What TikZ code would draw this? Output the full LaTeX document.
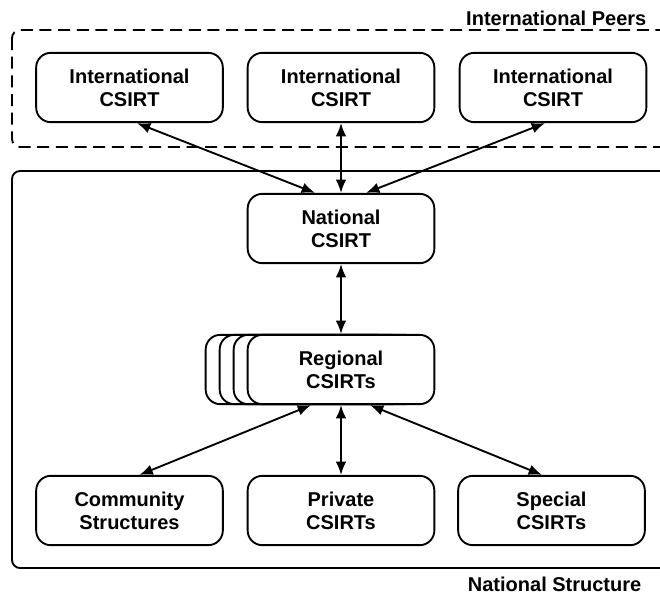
\documentclass[tikz,border=0pt]{standalone}
\usepackage{fontspec}
\setmainfont{Liberation Sans}
\usetikzlibrary{arrows.meta}

\begin{document}
\begin{tikzpicture}[x=0.75pt,y=-0.75pt,
		csirt/.style={draw, line width=1.4pt, rounded corners=11pt, fill=white, minimum width=140pt, minimum height=52pt, align=center, font=\bfseries\fontsize{15}{17.25}\selectfont},
		frame/.style={draw, line width=1.4pt, rounded corners=6pt},
		tag/.style={anchor=east, font=\bfseries\fontsize{15}{17.25}\selectfont},
		link/.style={line width=1.4pt, {Latex[length=10pt,width=8pt]}-{Latex[length=10pt,width=8pt]}}]
				\useasboundingbox (0,0) rectangle (660,594);
				
				\draw[frame, dash pattern=on 9pt off 5pt] (12,30) rectangle (680,147);
				\draw[frame] (12,171) rectangle (680,568);
				\node[tag] (peers) at (651,18) {International Peers};
				\node[tag] (structure) at (646,584) {National Structure};
				
				\node[csirt] (int1) at (129.5,87.5) {International\\CSIRT};
				\node[csirt] (int2) at (341,87.5) {International\\CSIRT};
				\node[csirt] (int3) at (553,87.5) {International\\CSIRT};
				
				\node[csirt] (nat) at (341,228.5) {National\\CSIRT};
				
				\node[csirt] (reg3) at (299,369.5) {};
				\node[csirt] (reg2) at (313,369.5) {};
				\node[csirt] (reg1) at (327,369.5) {};
				\node[csirt] (reg) at (341,369.5) {Regional\\CSIRTs};
				
				\node[csirt] (comm) at (129.5,510.5) {Community\\Structures};
				\node[csirt] (priv) at (341,510.5) {Private\\CSIRTs};
				\node[csirt] (spec) at (551.5,510.5) {Special\\CSIRTs};
				
				\draw[link] ([xshift=7.5*0.75pt]int1.south) -- ([xshift=-26*0.75pt]nat.north);
				\draw[link] (int2.south) -- (nat.north);
				\draw[link] ([xshift=-8*0.75pt]int3.south) -- ([xshift=25*0.75pt]nat.north);
				\draw[link] (nat.south) -- (reg.north);
				\draw[link] ([xshift=-30*0.75pt]reg.south) -- ([xshift=10*0.75pt]comm.north);
				\draw[link] (reg.south) -- (priv.north);
				\draw[link] ([xshift=29*0.75pt]reg.south) -- ([xshift=-9.5*0.75pt]spec.north);
\end{tikzpicture}
\end{document}
